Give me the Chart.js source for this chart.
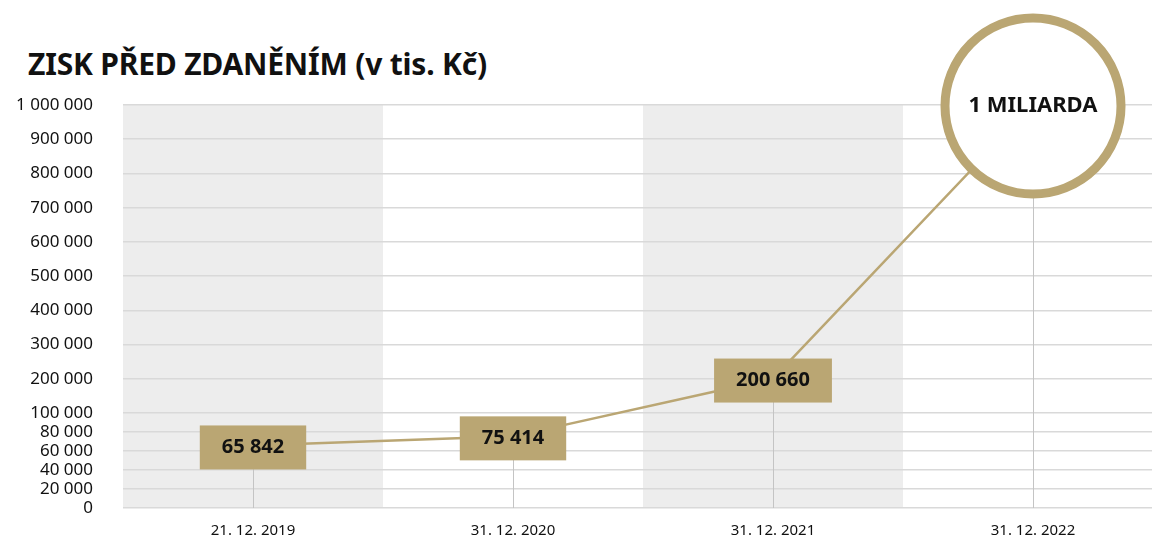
<!DOCTYPE html>
<html>
<head>
<meta charset="utf-8">
<script src="https://cdn.jsdelivr.net/npm/chart.js@4"></script>
<style>
  html, body { margin: 0; padding: 0; background: #fff; overflow: hidden; }
  #wrap { position: relative; width: 1152px; height: 540px; }
  #title {
    position: absolute; left: 28px; top: 49px;
    font: bold 30px "Noto Sans", sans-serif; line-height: 1;
    color: #111; white-space: nowrap; letter-spacing: -0.2px;
  }
  canvas { position: absolute; left: 0; top: 0; }
</style>
</head>
<body>
<div id="wrap">
  <div id="title">ZISK PŘED ZDANĚNÍM (v tis. Kč)</div>
  <canvas id="myChart" width="1152" height="540"></canvas>
</div>
<script>
// data
var categories = ['21. 12. 2019', '31. 12. 2020', '31. 12. 2021', '31. 12. 2022'];
var profit = [65842, 75414, 200660, 1000000];
var pointLabels = ['65 842', '75 414', '200 660', '1 MILIARDA'];
var yTickValues = [0, 20000, 40000, 60000, 80000, 100000, 200000, 300000, 400000,
                   500000, 600000, 700000, 800000, 900000, 1000000];
var shadedColumns = [0, 2];

var GOLD = '#baa673';

// axis is stretched below 100 000 (same as in the original graphic)
var LOW = 100000, LOW_SPAN = 2.776;
function toAxis(v){
  return v <= LOW ? v / LOW * LOW_SPAN : LOW_SPAN + (v - LOW) / LOW;
}
function fmt(v){
  return String(v).replace(/\B(?=(\d{3})+(?!\d))/g, ' ');
}

var points = profit.map(function(v, i){ return {x: i, y: toAxis(v)}; });

var decorations = {
  id: 'decorations',
  beforeDraw: function(chart){
    var ctx = chart.ctx, xs = chart.scales.x, area = chart.chartArea;
    ctx.save();
    ctx.fillStyle = '#ededed';
    shadedColumns.forEach(function(c){
      var l = xs.getPixelForValue(c - 0.5), r = xs.getPixelForValue(c + 0.5);
      ctx.fillRect(l, area.top, r - l, area.bottom - area.top);
    });
    ctx.restore();
  },
  beforeDatasetsDraw: function(chart){
    var ctx = chart.ctx, xs = chart.scales.x, ys = chart.scales.y;
    ctx.save();
    ctx.strokeStyle = '#c4c4c4';
    ctx.lineWidth = 1;
    points.forEach(function(p){
      var x = Math.round(xs.getPixelForValue(p.x)) + 0.5;
      ctx.beginPath();
      ctx.moveTo(x, ys.getPixelForValue(p.y));
      ctx.lineTo(x, ys.getPixelForValue(0));
      ctx.stroke();
    });
    ctx.restore();
  },
  afterDatasetsDraw: function(chart){
    var ctx = chart.ctx, xs = chart.scales.x, ys = chart.scales.y;
    ctx.save();
    ctx.textAlign = 'center';
    ctx.textBaseline = 'middle';
    points.forEach(function(p, i){
      var x = xs.getPixelForValue(p.x), y = ys.getPixelForValue(p.y);
      if (i == points.length - 1) {
        ctx.beginPath();
        ctx.arc(x, y + 1, 88, 0, Math.PI * 2);
        ctx.fillStyle = '#fff';
        ctx.fill();
        ctx.lineWidth = 9;
        ctx.strokeStyle = GOLD;
        ctx.stroke();
        ctx.font = 'bold 22px "Noto Sans", sans-serif';
        ctx.fillStyle = '#111';
        ctx.fillText(pointLabels[i], x, y + 1);
      } else {
        ctx.font = 'bold 20px "Noto Sans", sans-serif';
        var w = ctx.measureText(pointLabels[i]).width + 44;
        ctx.fillStyle = GOLD;
        ctx.fillRect(x - w / 2, y - 20, w, 44);
        ctx.fillStyle = '#111';
        ctx.fillText(pointLabels[i], x, y + 2);
      }
    });
    ctx.restore();
  }
};

var ctx = document.getElementById('myChart').getContext('2d');
var myChart = new Chart(ctx, {
  type: 'line',
  data: {
    datasets: [{
      data: points,
      borderColor: GOLD,
      borderWidth: 2.5,
      pointRadius: 0,
      tension: 0
    }]
  },
  options: {
    responsive: false,
    animation: false,
    events: [],
    layout: { padding: { top: 105, right: 0, bottom: 0, left: 0 } },
    plugins: { legend: { display: false }, tooltip: { enabled: false } },
    scales: {
      x: {
        type: 'linear',
        min: -0.5,
        max: -0.5 + 1029 / 260,
        afterBuildTicks: function(scale){
          scale.ticks = categories.map(function(c, i){ return {value: i}; });
        },
        afterFit: function(scale){ scale.height = 32; },
        grid: { display: false, drawTicks: false },
        border: { display: false },
        ticks: {
          autoSkip: false,
          maxRotation: 0,
          padding: 14,
          color: '#111',
          font: { family: 'Noto Sans', size: 15 },
          callback: function(value){ return categories[value]; }
        }
      },
      y: {
        min: 0,
        max: toAxis(1000000),
        afterBuildTicks: function(scale){
          scale.ticks = yTickValues.map(function(v){ return {value: toAxis(v)}; });
        },
        afterFit: function(scale){
          scale.width = 123;
          scale.paddingTop = 0;
          scale.paddingBottom = 0;
        },
        grid: { color: '#d9d9d9', lineWidth: 1.5, drawTicks: false },
        border: { display: false },
        ticks: {
          autoSkip: false,
          padding: 30,
          color: '#111',
          font: { family: 'Noto Sans', size: 17 },
          callback: function(value, index){ return fmt(yTickValues[index]); }
        }
      }
    }
  },
  plugins: [decorations]
});
</script>
</body>
</html>
